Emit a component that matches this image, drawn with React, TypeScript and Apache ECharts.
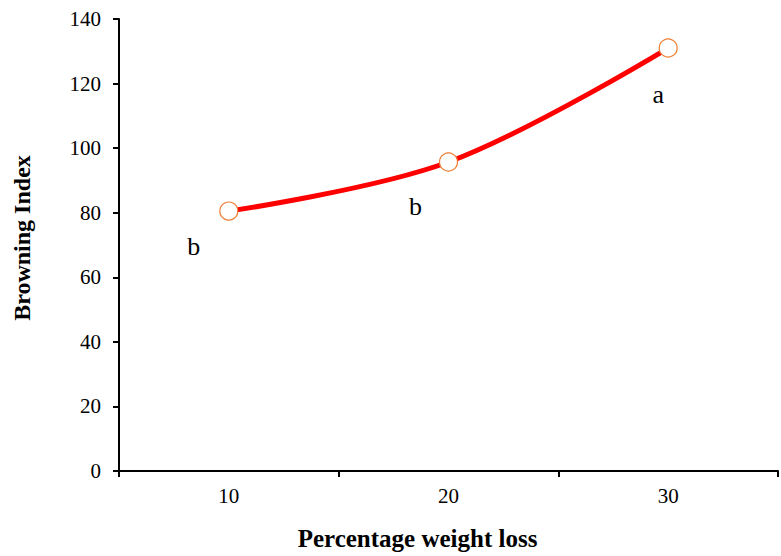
import React, { useEffect, useRef } from "react";
import * as echarts from "echarts";

const categories = ["10", "20", "30"];
const browningIndex = [80.5, 95.7, 131.0];
const letters = ["b", "b", "a"];
const letterOffsets = [
  [-35, 35],
  [-33, 44],
  [-10, 46],
];

export default function App() {
  const ref = useRef<HTMLDivElement>(null);
  useEffect(() => {
    if (!ref.current) return;
    const chart = echarts.init(ref.current, undefined, { renderer: "svg" });
    const serif = "'Liberation Serif', 'Times New Roman', serif";
    chart.setOption({
      animation: false,
      backgroundColor: "#ffffff",
      grid: { left: 119, right: 3, top: 19, bottom: 85 },
      xAxis: {
        type: "category",
        data: categories,
        boundaryGap: true,
        name: "Percentage weight loss",
        nameLocation: "middle",
        nameGap: 55,
        nameTextStyle: {
          fontFamily: serif,
          fontSize: 25,
          fontWeight: "bold",
          color: "#000",
          padding: [0, 62, 0, 0],
        },
        axisLine: { lineStyle: { color: "#000", width: 2 } },
        axisTick: { show: true, length: 6, lineStyle: { color: "#000", width: 2 } },
        axisLabel: { fontFamily: serif, fontSize: 21, color: "#000", margin: 14 },
        splitLine: { show: false },
      },
      yAxis: {
        type: "value",
        min: 0,
        max: 140,
        interval: 20,
        name: "Browning Index",
        nameLocation: "middle",
        nameGap: 85,
        nameTextStyle: {
          fontFamily: serif,
          fontSize: 24,
          fontWeight: "bold",
          color: "#000",
          padding: [0, 0, 0, 14],
        },
        axisLine: { show: true, lineStyle: { color: "#000", width: 2 } },
        axisTick: { show: true, length: 6, lineStyle: { color: "#000", width: 2 } },
        axisLabel: { fontFamily: serif, fontSize: 21, color: "#000", margin: 18 },
        splitLine: { show: false },
      },
      series: [
        {
          type: "line",
          smooth: 0.35,
          data: browningIndex.map((v, i) => ({
            value: v,
            label: {
              show: true,
              formatter: letters[i],
              position: "inside",
              offset: letterOffsets[i],
              fontFamily: serif,
              fontSize: 26,
              color: "#000",
            },
          })),
          lineStyle: { color: "#ff0000", width: 5 },
          symbol: "circle",
          symbolSize: 18,
          itemStyle: { color: "#ffffff", borderColor: "#ed7d31", borderWidth: 1.2 },
          z: 3,
        },
      ],
    });
    return () => chart.dispose();
  }, []);
  return (
    <div
      ref={ref}
      style={{ position: "absolute", left: 0, top: 0, width: 781, height: 556 }}
    />
  );
}
